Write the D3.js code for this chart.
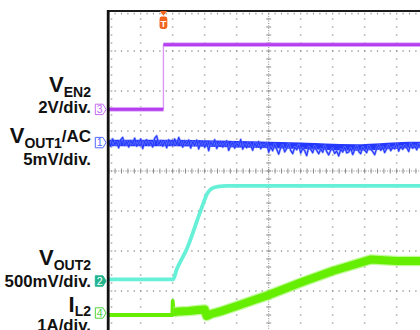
<!DOCTYPE html>
<html>
<head>
<meta charset="utf-8">
<script src="https://cdn.jsdelivr.net/npm/d3@7"></script>
<style>
  html, body { margin: 0; padding: 0; background: #fff; overflow: hidden; }
  text { font-family: "Liberation Sans", Arial, Helvetica, sans-serif; }
</style>
</head>
<body>
<svg id="scope" width="420" height="330"></svg>
<script>
// ---- Screen: 10 time divisions across, 8 vertical divisions ----
const timeDivs = [0, 10];
const vertDivs = [-4, 4];

// ---- Channel set-up (display order top to bottom) ----
const channelNum    = [3, 1, 2, 4];
const channelOffset = [1.54, 0.71, -2.75, -3.55];   // marker position, divisions
const channelScale  = [2, 5, 0.5, 1];                // units per division
const labelName     = ["V", "V", "V", "I"];
const labelSub      = ["EN2", "OUT1", "OUT2", "L2"];
const labelTail     = ["", "/AC", "", ""];
const labelScale    = ["2V/div.", "5mV/div.", "500mV/div.", "1A/div."];

// ---- Trigger ----
const triggerTime = 1.71;

// ---- CH3: enable, volts ----
const ven2Time  = [0, 1.71, 1.71, 10];
const ven2Volts = [0, 0, 3.24, 3.24];

// ---- CH2: output 2 soft-start, volts ----
const vout2Time  = [0, 2.01, 2.12, 2.44, 2.875, 3.09, 3.22, 3.40, 3.70, 10];
const vout2Volts = [0.02, 0.02, 0.14, 0.40, 0.88, 1.10, 1.156, 1.18, 1.19, 1.19];

// ---- CH4: inductor current, amps ----
const il2Time = [0, 1.99, 2.0, 2.03, 2.2, 2.5, 2.8, 3.0, 3.06, 3.2, 3.5, 4.0, 5.0, 6.0, 7.0, 8.0, 8.2, 9.0, 10];
const il2Amps = [-0.05, -0.05, 0.30, 0.02, 0.04, 0.05, 0.075, 0.09, -0.075, -0.025, 0.04, 0.175, 0.45, 0.76, 1.05, 1.29, 1.34, 1.30, 1.30];

// ---- CH1: output 1 (AC coupled), mV ----
// slow drift of the trace centre
const vout1MeanTime = [0, 1, 2, 3, 4, 5, 6, 7, 7.8, 8.6, 9.4, 10];
const vout1MeanmV   = [-0.05, -0.05, -0.05, -0.1, -0.2, -0.3, -0.4, -0.55, -0.6, -0.45, -0.3, -0.3];
// ripple samples every vout1Step divisions
const vout1Step = 0.0625;
const vout1mV = [
  0.3, -0.4, 0.5, -0.2, 0.1, -0.6, 0.4, 0.7, -0.3, 0.2, -0.5, 0.3, -0.1, 0.6, -0.4, 0.0, 0.5, -0.7, 0.2, 0.4,
  -0.3, 0.1, -0.5, 0.6, 0.9, -0.2, 0.3, -0.4, 0.2, -0.6, 0.4, 0.0, -0.3, 0.5, -0.2, 0.7, 0.1, -0.5, 0.3, -0.1, 0.4,
  -0.6, 0.2, -0.3, 0.4, -0.7, 0.0, 0.3, -0.5, 0.1, -0.9, 0.2, -0.2, 0.5, -0.6, -0.1, 0.3, -0.4, 0.0, 0.4, -0.8,
  -0.2, 0.2, -0.5, 0.1, -0.3, 0.6, -0.6, 0.0, -0.4, 0.3, -0.1, -0.7, 0.2, -0.3, 0.4, -0.5, 0.0, -0.2, 0.3,
  -0.9, -0.2, -0.7, 0.1, -0.5, -1.1, -0.3, 0.0, -0.8, -0.4, 0.2, -0.6, -1.0, -0.2, -0.5, 0.1, -0.9, -0.3, -0.6, -1.2,
  -0.1, -0.4, -0.8, 0.0, -0.5, -0.9, -0.3, -0.7, 0.1, -0.6, -1.0, -0.4, -0.2, -0.8, -0.5, -1.1, -0.3, -0.6, 0.0, -0.7,
  -0.6, -0.1, -0.9, -0.3, 0.2, -0.5, -0.8, 0.0, -0.4, -0.7, 0.1, -0.3, -0.6, -1.0, -0.2, 0.2, -0.5, -0.1, -0.8, -0.3,
  0.1, -0.6, -0.2, -0.4, 0.3, -0.7, -0.1, -0.5, 0.0, -0.3, -0.8, 0.2, -0.4, -0.1, -0.6, 0.1, -0.3, -0.5, 0.0, -0.2
];

// ================= drawing =================
const svg = d3.select("#scope");
const x = d3.scaleLinear().domain(timeDivs).range([108.7, 428.7]);
const y = d3.scaleLinear().domain(vertDivs).range([331, 11]);

const colors = { 3: "#b63ef0", 1: "#2438ff", 2: "#66f0d8", 4: "#66ee00" };

// graticule dots
const grid = svg.append("g").attr("fill", "#9a9a9a");
const minorV = d3.range(vertDivs[0], vertDivs[1] + 0.001, 0.2);
const minorT = d3.range(timeDivs[0], timeDivs[1] + 0.001, 0.2);
d3.range(1, 10).filter(t => t !== 5).forEach(t => {
  grid.selectAll(null).data(minorV).join("rect")
    .attr("x", x(t) - 0.8).attr("y", v => y(v) - 0.6).attr("width", 1.6).attr("height", 1.2);
});
d3.range(-3, 4).filter(v => v !== 0).forEach(v => {
  grid.selectAll(null).data(minorT).join("rect")
    .attr("x", t => x(t) - 0.6).attr("y", y(v) - 0.8).attr("width", 1.2).attr("height", 1.6);
});
// inner edge ticks along top and left border
grid.selectAll(null).data(minorT).join("rect")
  .attr("x", t => x(t) - 0.6).attr("y", y(4) + 1.8).attr("width", 1.2).attr("height", 1.6);
grid.selectAll(null).data(minorV).join("rect")
  .attr("x", x(0) + 2).attr("y", v => y(v) - 0.6).attr("width", 1.6).attr("height", 1.2);

// centre axes with tick marks
const axes = svg.append("g").attr("stroke", "#8c8c8c").attr("stroke-width", 1);
axes.append("line").attr("x1", x(5)).attr("x2", x(5)).attr("y1", y(4)).attr("y2", y(-4))
  .attr("stroke-dasharray", "1,1.4");
axes.append("line").attr("x1", x(0)).attr("x2", x(10)).attr("y1", y(0)).attr("y2", y(0))
  .attr("stroke-dasharray", "1,1.4");
axes.selectAll(null).data(minorV).join("line")
  .attr("x1", x(5) - 2.5).attr("x2", x(5) + 2.5).attr("y1", v => y(v)).attr("y2", v => y(v));
axes.selectAll(null).data(minorT).join("line")
  .attr("y1", y(0) - 2.5).attr("y2", y(0) + 2.5).attr("x1", t => x(t)).attr("x2", t => x(t));

// ---- traces ----
const traces = svg.append("g").attr("fill", "none").attr("stroke-linejoin", "round");
const idx = ch => channelNum.indexOf(ch);
const toY = (ch, val) => y(channelOffset[idx(ch)] + val / channelScale[idx(ch)]);

// CH3 enable
const ven2Pts = ven2Time.map((t, i) => [t, ven2Volts[i]]);
const ven2Line = d3.line().x(d => x(d[0])).y(d => toY(3, d[1]));
traces.append("line")
  .attr("x1", x(triggerTime)).attr("x2", x(triggerTime))
  .attr("y1", toY(3, ven2Volts[0])).attr("y2", toY(3, ven2Volts[3]))
  .attr("stroke", "#d89af6").attr("stroke-width", 1.4);
[ven2Pts.slice(0, 2), ven2Pts.slice(2)].forEach(seg => {
  traces.append("path").datum(seg).attr("d", ven2Line)
    .attr("stroke", "#d08cf6").attr("stroke-width", 4.2);
  traces.append("path").datum(seg).attr("d", ven2Line)
    .attr("stroke", colors[3]).attr("stroke-width", 2.6);
});

// CH1 output: centre band plus ripple
const vout1Mean = d3.scaleLinear().domain(vout1MeanTime).range(vout1MeanmV);
traces.append("path").datum(vout1MeanTime.map((t, i) => [t, vout1MeanmV[i]]))
  .attr("d", d3.line().curve(d3.curveMonotoneX).x(d => x(d[0])).y(d => toY(1, d[1])))
  .attr("stroke", colors[1]).attr("stroke-width", 6.5);
const vout1Pts = vout1mV.map((v, i) => [i * vout1Step, vout1Mean(i * vout1Step) + v]);
const vout1Line = d3.line().x(d => x(d[0])).y(d => toY(1, d[1]));
traces.append("path").datum(vout1Pts).attr("d", vout1Line)
  .attr("stroke", "#7586ff").attr("stroke-width", 2.4).attr("opacity", 0.75);
traces.append("path").datum(vout1Pts).attr("d", vout1Line)
  .attr("stroke", colors[1]).attr("stroke-width", 1.1);

// CH2 output
const vout2Pts = vout2Time.map((t, i) => [t, vout2Volts[i]]);
traces.append("path").datum(vout2Pts)
  .attr("d", d3.line().curve(d3.curveMonotoneX).x(d => x(d[0])).y(d => toY(2, d[1])))
  .attr("stroke", colors[2]).attr("stroke-width", 3.8);

// CH4 inductor current
const il2Pts = il2Time.map((t, i) => [t, il2Amps[i]]);
const il2Line = d3.line().x(d => x(d[0])).y(d => toY(4, d[1]));
traces.append("path").datum(il2Pts.slice(0, 4)).attr("d", il2Line)
  .attr("stroke", colors[4]).attr("stroke-width", 3.8);
const il2Run = il2Pts.slice(3);
traces.append("path").datum(il2Run).attr("d", il2Line)
  .attr("stroke", "#a8f870").attr("stroke-width", 10.5).attr("opacity", 0.7);
traces.append("path").datum(il2Run).attr("d", il2Line)
  .attr("stroke", colors[4]).attr("stroke-width", 8);

// ---- frame ----
svg.append("line").attr("x1", x(0) - 1.5).attr("x2", 420).attr("y1", y(4)).attr("y2", y(4))
  .attr("stroke", "#1c1c1c").attr("stroke-width", 2);
svg.append("line").attr("x1", x(0) - 0.5).attr("x2", x(0) - 0.5).attr("y1", y(4) - 1).attr("y2", 330)
  .attr("stroke", "#111").attr("stroke-width", 2.8);

// ---- trigger marker ----
const trig = svg.append("g").attr("transform", `translate(${x(triggerTime)},${y(4)})`);
trig.append("path").attr("d", "M-3.8,0 L3.8,0 L0,4.8 Z").attr("fill", "#f2641e");
trig.append("rect").attr("x", -3.9).attr("y", 5.6).attr("width", 7.8).attr("height", 12.4)
  .attr("rx", 2.4).attr("fill", "#f2641e");
trig.append("text").attr("x", 0).attr("y", 15.8).attr("text-anchor", "middle")
  .attr("font-size", 9.5).attr("font-weight", "bold").attr("fill", "#fff").text("T");

// ---- channel markers ----
channelNum.forEach((ch, i) => {
  const cy = y(channelOffset[i]);
  const filled = ch === 2;
  const edge = { 3: "#c46cf2", 1: "#5068ff", 2: "#22b48e", 4: "#4cd43c" }[ch];
  const g = svg.append("g").attr("transform", `translate(95.3,${cy})`);
  g.append("path").attr("d", "M0,-5.2 L7.6,-5.2 L10.8,0 L7.6,5.2 L0,5.2 Z")
    .attr("fill", filled ? edge : "#fff").attr("stroke", edge).attr("stroke-width", 1);
  g.append("text").attr("x", 4.3).attr("y", 3.7).attr("text-anchor", "middle")
    .attr("font-size", 10.5).attr("fill", filled ? "#fff" : edge).text(ch);
});

// ---- channel labels ----
const labelRight = 91;
const nameBase  = [92, 143, 265, 311.5];
const scaleBase = [113.2, 165, 287, 331];
const subDrop   = [4.5, 4.5, 4.5, 4];
channelNum.forEach((ch, i) => {
  const t = svg.append("text").attr("x", labelRight).attr("y", nameBase[i])
    .attr("text-anchor", "end").attr("font-weight", "bold").attr("fill", "#111");
  t.append("tspan").attr("font-size", 22).text(labelName[i]);
  t.append("tspan").attr("font-size", 14).attr("dy", subDrop[i]).text(labelSub[i]);
  if (labelTail[i]) t.append("tspan").attr("font-size", 17).attr("dy", -5.5).text(labelTail[i]);
  svg.append("text").attr("x", labelRight).attr("y", scaleBase[i])
    .attr("text-anchor", "end").attr("font-weight", "bold").attr("font-size", 16.8)
    .attr("fill", "#111").text(labelScale[i]);
});
</script>
</body>
</html>
